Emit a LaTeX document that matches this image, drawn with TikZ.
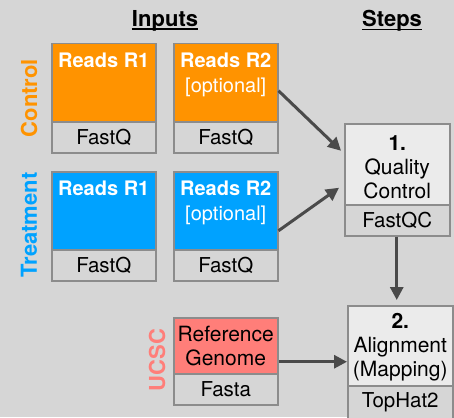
\documentclass[tikz,border=0pt]{standalone}
\usepackage{fontspec}
\setmainfont{TeX Gyre Heros}
\usetikzlibrary{arrows.meta,calc}
\definecolor{bg}{HTML}{D6D6D6}
\definecolor{ora}{HTML}{FF9300}
\definecolor{blu}{HTML}{00A2FF}
\definecolor{sal}{HTML}{FF7E79}
\definecolor{brd}{HTML}{8C8C8C}
\definecolor{stp}{HTML}{EBEBEB}
\definecolor{arr}{HTML}{4A4A4A}
\begin{document}
\begin{tikzpicture}[x=1pt,y=1pt,
  box/.style={draw=brd,line width=1.5pt,inner sep=0pt,anchor=north west},
  topbox/.style={box,minimum width=104pt},
  botbox/.style={box,fill=bg,minimum width=104pt,minimum height=31pt,font=\fontsize{20.5}{24}\selectfont},
  intext/.style={anchor=north,align=center,text=white,font=\fontsize{20}{25}\bfseries\selectfont,inner sep=0pt},
  sidelab/.style={rotate=90,font=\fontsize{22}{26}\bfseries\selectfont},
  head/.style={font=\fontsize{22}{26}\bfseries\selectfont,inner sep=0pt},
  uline/.style={draw=black,line width=1.4pt},
  steptext/.style={align=center,font=\fontsize{21}{24}\selectfont,inner sep=0pt},
  conn/.style={draw=arr,line width=3pt,-{Triangle[length=13pt,width=13pt]}}]
\useasboundingbox (0,0) rectangle (454,-417);
\clip (0,0) rectangle (454,-417);
\fill[bg] (0,0) rectangle (454,-417);
% headings
\node[head] (hin) at (165,-21) {Inputs};
\node[head] (hst) at (392,-21) {Steps};
\draw[uline] ([yshift=-2.5pt]hin.base west) -- ([yshift=-2.5pt]hin.base east);
\draw[uline] ([yshift=-2.5pt]hst.base west) -- ([yshift=-2.5pt]hst.base east);
% side labels
\node[sidelab,text=ora] (lc) at (29,-98) {Control};
\node[sidelab,text=blu] (lt) at (29,-225) {Treatment};
\node[sidelab,text=sal] (lu) at (157,-360) {UCSC};
% control
\node[topbox,fill=ora,minimum height=78pt] (c1top) at (51,-43) {};
\node[botbox] (c1bot) at (51,-121) {FastQ};
\node[intext] (c1t) at ([yshift=-10pt]c1top.north) {Reads R1};
\node[topbox,fill=ora,minimum height=78pt] (c2top) at (173,-43) {};
\node[botbox] (c2bot) at (173,-121) {FastQ};
\node[intext] (c2t) at ([yshift=-10pt]c2top.north) {Reads R2\\{\mdseries[optional]}};
% treatment
\node[topbox,fill=blu,minimum height=78pt] (t1top) at (51,-171) {};
\node[botbox] (t1bot) at (51,-249) {FastQ};
\node[intext] (t1t) at ([yshift=-10pt]t1top.north) {Reads R1};
\node[topbox,fill=blu,minimum height=78pt] (t2top) at (173,-171) {};
\node[botbox] (t2bot) at (173,-249) {FastQ};
\node[intext] (t2t) at ([yshift=-10pt]t2top.north) {Reads R2\\{\mdseries[optional]}};
% reference
\node[topbox,fill=sal,minimum height=56pt] (rtop) at (173,-317) {};
\node[botbox] (rbot) at (173,-373) {Fasta};
\node[steptext] (rt) at (rtop.center) {Reference\\Genome};
% step 1
\node[topbox,fill=stp,minimum width=105pt,minimum height=81pt] (s1top) at (344,-123) {};
\node[botbox,minimum width=105pt] (s1bot) at (344,-204) {FastQC};
\node[steptext] (s1t) at ([yshift=-3pt]s1top.center) {\textbf{1.}\\Quality\\Control};
% step 2
\node[topbox,fill=stp,minimum width=105pt,minimum height=80pt] (s2top) at (347,-305) {};
\node[botbox,minimum width=105pt,minimum height=34pt] (s2bot) at (347,-385) {TopHat2};
\node[steptext] (s2t) at ([yshift=-1pt]s2top.center) {\textbf{2.}\\Alignment\\(Mapping)};
% connectors
\draw[conn] ([yshift=-8pt]c2top.east) -- ([xshift=-3pt,yshift=13.5pt]s1top.west);
\draw[conn] ([yshift=-20pt]t2top.east) -- ([xshift=-5pt,yshift=-23.5pt]s1top.west);
\draw[conn] ([xshift=-0.5pt]s1bot.south) -- ([xshift=-0.5pt,yshift=5pt]s1bot.south |- s2top.north);
\draw[conn] ([yshift=-16pt]rtop.east) -- ([yshift=-16pt]s2top.west);
\end{tikzpicture}
\end{document}
